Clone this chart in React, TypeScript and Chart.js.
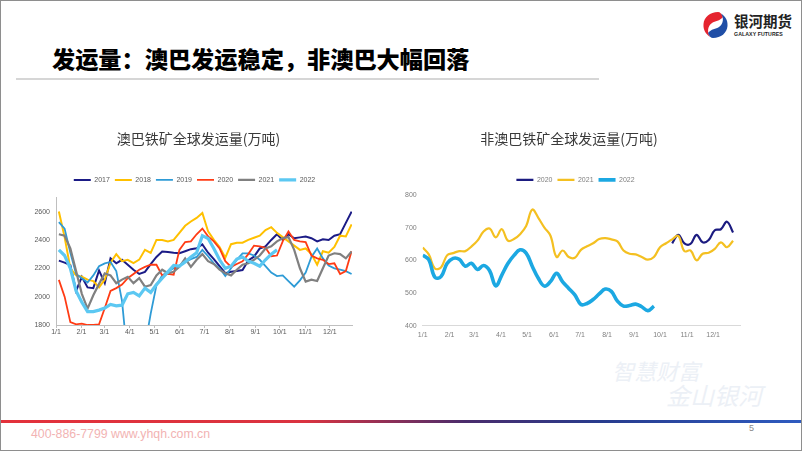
import React, { useEffect, useRef } from "react";
import { Chart, registerables } from "chart.js";

Chart.register(...registerables);

// ---------------- data ----------------
const monthDays = [0, 31, 59, 90, 120, 151, 181, 212, 243, 273, 304, 334];
const monthLabels = ["1/1", "2/1", "3/1", "4/1", "5/1", "6/1", "7/1", "8/1", "9/1", "10/1", "11/1", "12/1"];

// 澳巴 weekly shipments (万吨), 52 weeks
const ausYears = ["2017", "2018", "2019", "2020", "2021", "2022"];
const aus2017 = [2254, 2240, 2222, 2040, 2140, 2065, 2060, 2185, 2095, 2270, 2235, 2260, 2225, 2190, 2160, 2175, 2230, 2280, 2318, 2315, 2310, 2306, 2320, 2335, 2341, 2369, 2310, 2265, 2215, 2165, 2176, 2181, 2188, 2255, 2282, 2340, 2355, 2400, 2440, 2400, 2440, 2412, 2418, 2424, 2412, 2390, 2405, 2400, 2430, 2440, 2520, 2600];
const aus2018 = [2600, 2420, 2200, 2150, 2140, 2120, 2110, 2065, 2120, 2240, 2300, 2250, 2260, 2237, 2261, 2330, 2308, 2400, 2400, 2390, 2400, 2450, 2500, 2530, 2555, 2590, 2460, 2400, 2350, 2275, 2370, 2380, 2380, 2400, 2415, 2430, 2470, 2490, 2450, 2420, 2390, 2360, 2330, 2340, 2300, 2225, 2320, 2310, 2350, 2430, 2425, 2510];
const aus2019 = [2525, 2480, 2310, 2160, 2130, 2100, 2150, 2215, 2235, 2245, 2180, 1970, 1550, 1500, 1500, 1650, 1880, 2080, 2150, 2175, 2200, 2220, 2245, 2265, 2280, 2330, 2285, 2235, 2200, 2145, 2200, 2260, 2305, 2305, 2290, 2260, 2215, 2170, 2145, 2150, 2110, 2070, 2115, 2170, 2280, 2340, 2270, 2220, 2200, 2190, 2180, 2160];
const aus2020 = [2118, 2000, 1820, 1805, 1810, 1800, 1800, 1805, 1920, 2040, 2060, 2085, 2130, 2160, 2190, 2210, 2225, 2225, 2150, 2160, 2155, 2330, 2385, 2390, 2440, 2480, 2425, 2390, 2340, 2250, 2210, 2230, 2250, 2300, 2360, 2355, 2345, 2285, 2290, 2390, 2460, 2400, 2390, 2385, 2290, 2270, 2260, 2230, 2235, 2160, 2180, 2320];
const aus2021 = [2440, 2430, 2340, 2180, 2020, 1915, 2010, 2090, 2165, 2150, 2095, 2120, 2140, 2095, 2130, 2070, 2082, 2150, 2190, 2165, 2175, 2210, 2270, 2210, 2260, 2300, 2250, 2230, 2190, 2165, 2150, 2190, 2225, 2235, 2260, 2290, 2340, 2355, 2390, 2412, 2420, 2330, 2200, 2106, 2120, 2110, 2200, 2290, 2306, 2300, 2270, 2318];
const aus2022 = [2330, 2290, 2200, 2040, 1960, 1895, 1895, 1905, 1920, 1945, 1935, 1940, 2020, 2030, 2005, 2060, 2030, 2085, 2130, 2175, 2220, 2215, 2245, 2280, 2310, 2430, 2410, 2340, 2260, 2200, 2215, 2265, 2280, 2250, 2235, 2215, 2260, 2300, 2330];
const ausTicks = [1800, 2000, 2200, 2400, 2600];

// 非澳巴 weekly shipments (万吨)
const nonAusYears = ["2020", "2021", "2022"];
const nonAus2020FirstWeek = 41;
const nonAus2020 = [652, 678, 652, 650, 678, 655, 662, 692, 695, 718, 685];
const nonAus2021 = [639, 618, 575, 578, 615, 622, 628, 628, 642, 660, 688, 697, 670, 695, 660, 665, 680, 705, 755, 730, 700, 675, 610, 630, 610, 608, 632, 643, 652, 665, 668, 664, 658, 630, 620, 618, 610, 602, 610, 640, 652, 664, 675, 628, 630, 600, 620, 623, 635, 655, 640, 660];
const nonAus2022 = [616, 602, 548, 550, 590, 606, 603, 582, 591, 572, 584, 568, 522, 555, 590, 615, 632, 622, 582, 545, 521, 535, 560, 534, 514, 494, 465, 468, 480, 497, 512, 505, 475, 460, 462, 466, 458, 446, 460];
const nonAusTicks = [400, 500, 600, 700, 800];

// ---------------- helpers ----------------
const NUM_FONT = '"Liberation Sans", Arial, sans-serif';
const CJK_FONT = '"Noto Sans CJK SC", "Noto Sans", sans-serif';

const boxPlacer = {
  id: "boxPlacer",
  afterLayout(chart: any, _args: any, opts: any) {
    const move = (box: any, cx: number | undefined) => {
      if (!box || cx == null) return;
      const w = box.right - box.left;
      box.left = cx - w / 2;
      box.right = cx + w / 2;
    };
    move(chart.titleBlock, opts.titleX);
    move(chart.legend, opts.legendX);
  },
};

const legendGrow = {
  id: "legendGrow",
  beforeInit(chart: any, _args: any, opts: any) {
    const legend = chart.legend;
    if (!legend) return;
    const orig = legend.fit;
    legend.fit = function () {
      orig.call(this);
      this.height += opts.extra || 0;
    };
  },
};

const toWeekly = (values: number[], firstWeek: number, offset: number) =>
  values.map((v, k) => ({ x: (firstWeek + k) * 7 + offset, y: v }));

const plainNumber = (v: any) => String(v);
const monthLabel = (v: any) => monthLabels[monthDays.indexOf(Number(v))] ?? "";

function AusChart() {
  const ref = useRef<HTMLCanvasElement>(null);
  useEffect(() => {
    const series = [aus2017, aus2018, aus2019, aus2020, aus2021, aus2022];
    const colors = ["#1B1B86", "#FFC000", "#2E9BD6", "#FF3B14", "#808080", "#5CC8F2"];
    const widths = [2, 2, 1.8, 1.8, 2.2, 3.2];
    const chart = new Chart(ref.current!, {
      type: "line",
      data: {
        datasets: series.map((s, i) => ({
          label: ausYears[i],
          data: toWeekly(s, 0, 3.5),
          borderColor: colors[i],
          backgroundColor: colors[i],
          borderWidth: widths[i],
          pointRadius: 0,
          tension: 0,
          order: series.length - i,
        })),
      },
      options: {
        responsive: false,
        animation: false,
        layout: { padding: { left: 0, right: 13, top: 0, bottom: 0 } },
        plugins: {
          tooltip: { enabled: false },
          title: {
            display: true,
            text: "澳巴铁矿全球发运量(万吨)",
            color: "#3A3A3A",
            font: { family: CJK_FONT, size: 14, weight: "normal", lineHeight: 1.2 },
            padding: { top: 10.6, bottom: 24 },
          },
          legend: {
            display: true,
            labels: {
              usePointStyle: true,
              pointStyle: "line",
              pointStyleWidth: 17,
              padding: 5,
              color: "#595959",
              font: { family: NUM_FONT, size: 7 },
              sort: (a: any, b: any) => a.datasetIndex - b.datasetIndex,
            },
          },
          boxPlacer: { titleX: 178.5, legendX: 174.5 },
          legendGrow: { extra: 4 },
        } as any,
        scales: {
          x: {
            type: "linear",
            min: 0,
            max: 361,
            afterBuildTicks: (s: any) => {
              s.ticks = monthDays.map((d) => ({ value: d }));
            },
            afterFit: (s: any) => {
              s.height = 20;
            },
            ticks: {
              autoSkip: false,
              maxRotation: 0,
              padding: 0,
              color: "#595959",
              font: { family: NUM_FONT, size: 7 },
              callback: monthLabel,
            },
            grid: { display: true, drawOnChartArea: false, drawTicks: true, tickLength: 3, color: "#BFBFBF" },
            border: { display: true, color: "#BFBFBF", width: 1 },
          },
          y: {
            min: 1800,
            max: 2700,
            afterBuildTicks: (s: any) => {
              s.ticks = ausTicks.map((v) => ({ value: v }));
            },
            afterFit: (s: any) => {
              s.width = 36;
            },
            ticks: { padding: 6, color: "#595959", font: { family: NUM_FONT, size: 7 }, callback: plainNumber },
            grid: { display: false, drawTicks: false },
            border: { display: true, color: "#BFBFBF", width: 1 },
          },
        },
      },
      plugins: [boxPlacer, legendGrow],
    } as any);
    return () => chart.destroy();
  }, []);
  return <canvas ref={ref} width={345} height={225} style={{ position: "absolute", left: 20, top: 120 }} />;
}

function NonAusChart() {
  const ref = useRef<HTMLCanvasElement>(null);
  useEffect(() => {
    const series = [
      { label: nonAusYears[0], data: toWeekly(nonAus2020, nonAus2020FirstWeek, 0), color: "#1B1B80", width: 2.2 },
      { label: nonAusYears[1], data: toWeekly(nonAus2021, 0, 0), color: "#F4C021", width: 2.2 },
      { label: nonAusYears[2], data: toWeekly(nonAus2022, 0, 0), color: "#1CA8E2", width: 3.6 },
    ];
    const chart = new Chart(ref.current!, {
      type: "line",
      data: {
        datasets: series.map((s, i) => ({
          label: s.label,
          data: s.data,
          borderColor: s.color,
          backgroundColor: s.color,
          borderWidth: s.width,
          pointRadius: 0,
          tension: 0.4,
          order: series.length - i,
        })),
      },
      options: {
        responsive: false,
        animation: false,
        layout: { padding: { left: 0, right: 15, top: 0, bottom: 0 } },
        plugins: {
          tooltip: { enabled: false },
          title: {
            display: true,
            text: "非澳巴铁矿全球发运量(万吨)",
            color: "#3A3A3A",
            font: { family: CJK_FONT, size: 14, weight: "normal", lineHeight: 1.2 },
            padding: { top: 10.6, bottom: 24 },
          },
          legend: {
            display: true,
            labels: {
              usePointStyle: true,
              pointStyle: "line",
              pointStyleWidth: 17,
              padding: 5,
              color: "#7F7F7F",
              font: { family: NUM_FONT, size: 7 },
              sort: (a: any, b: any) => a.datasetIndex - b.datasetIndex,
            },
          },
          boxPlacer: { titleX: 184, legendX: 190.5 },
          legendGrow: { extra: 1.5 },
        } as any,
        scales: {
          x: {
            type: "linear",
            min: 0,
            max: 365,
            afterBuildTicks: (s: any) => {
              s.ticks = monthDays.map((d) => ({ value: d }));
            },
            afterFit: (s: any) => {
              s.height = 19.3;
            },
            ticks: {
              autoSkip: false,
              maxRotation: 0,
              padding: 5,
              color: "#7F7F7F",
              font: { family: NUM_FONT, size: 7 },
              callback: monthLabel,
            },
            grid: { display: false, drawTicks: false },
            border: { display: true, color: "#D9D9D9", width: 1 },
          },
          y: {
            min: 400,
            max: 800,
            afterBuildTicks: (s: any) => {
              s.ticks = nonAusTicks.map((v) => ({ value: v }));
            },
            afterFit: (s: any) => {
              s.width = 37.7;
            },
            ticks: { padding: 6, color: "#7F7F7F", font: { family: NUM_FONT, size: 7 }, callback: plainNumber },
            grid: { display: false, drawTicks: false },
            border: { display: false },
          },
        },
      },
      plugins: [boxPlacer, legendGrow],
    } as any);
    return () => chart.destroy();
  }, []);
  return <canvas ref={ref} width={370} height={225} style={{ position: "absolute", left: 385, top: 120 }} />;
}

function Logo() {
  return (
    <div style={{ position: "absolute", left: 702, top: 11, width: 96, height: 30 }}>
      <svg width="27" height="28" viewBox="0 0 27 28" style={{ position: "absolute", left: 0, top: 0 }}>
        <path d="M16 1 C8 1 2 6 1.5 13 C1 19 4 23 8 26 C5 21 5.5 15 10 12 C13 10 18 10 21 6 C20 3 18 1 16 1 Z" fill="#E5242F" />
        <path d="M11 27 C19 27 25 22 25.5 15 C26 9 23 5 19 2.5 C22 7 21.5 13 17 16 C14 18 9 18 6 22 C7 25 9 27 11 27 Z" fill="#1F4EA6" />
      </svg>
      <div
        style={{
          position: "absolute",
          left: 32,
          top: 2,
          fontFamily: CJK_FONT,
          fontWeight: 700,
          fontSize: 14.5,
          lineHeight: "16px",
          color: "#222",
          whiteSpace: "nowrap",
        }}
      >
        银河期货
      </div>
      <div
        style={{
          position: "absolute",
          left: 32,
          top: 20,
          fontFamily: NUM_FONT,
          fontWeight: 700,
          fontSize: 5.2,
          lineHeight: "6px",
          color: "#222",
          whiteSpace: "nowrap",
          letterSpacing: 0.1,
        }}
      >
        GALAXY FUTURES
      </div>
    </div>
  );
}

export default function App() {
  return (
    <div
      style={{
        position: "fixed",
        left: 0,
        top: 0,
        width: 802,
        height: 451,
        background: "#ffffff",
        overflow: "hidden",
      }}
    >
      <Logo />
      <div
        style={{
          position: "absolute",
          left: 52,
          top: 46,
          fontFamily: CJK_FONT,
          fontWeight: 900,
          fontSize: 23.2,
          lineHeight: "25px",
          color: "#000",
          whiteSpace: "nowrap",
        }}
      >
        发运量：澳巴发运稳定，非澳巴大幅回落
      </div>
      <div style={{ position: "absolute", left: 16, top: 78, width: 583, height: 2, background: "#D6D6D6" }} />

      <AusChart />
      <NonAusChart />

      <div
        style={{
          position: "absolute",
          left: 612,
          top: 358,
          fontFamily: CJK_FONT,
          fontSize: 22,
          fontStyle: "italic",
          lineHeight: "24px",
          color: "#ECF0F6",
          whiteSpace: "nowrap",
        }}
      >
        智慧财富
      </div>
      <div
        style={{
          position: "absolute",
          left: 666,
          top: 382,
          fontFamily: CJK_FONT,
          fontSize: 24,
          fontStyle: "italic",
          lineHeight: "26px",
          color: "#ECF0F6",
          whiteSpace: "nowrap",
        }}
      >
        金山银河
      </div>

      <div
        style={{
          position: "absolute",
          left: 0,
          top: 420,
          width: 802,
          height: 3,
          background: "linear-gradient(to right, #E3313B 0%, #DA3340 38%, #4A2C6C 58%, #283C8E 75%, #2E5BC0 100%)",
        }}
      />
      <div
        style={{
          position: "absolute",
          left: 31,
          top: 427,
          fontFamily: NUM_FONT,
          fontSize: 12.3,
          lineHeight: "14px",
          color: "#F2B3B3",
          whiteSpace: "nowrap",
        }}
      >
        400-886-7799 www.yhqh.com.cn
      </div>
      <div
        style={{
          position: "absolute",
          left: 749,
          top: 423,
          fontFamily: NUM_FONT,
          fontSize: 9,
          lineHeight: "10px",
          color: "#8A8A8A",
        }}
      >
        5
      </div>
      <div
        style={{
          position: "absolute",
          left: 0,
          top: 0,
          width: 802,
          height: 451,
          boxSizing: "border-box",
          border: "1px solid #8E8E8E",
          pointerEvents: "none",
        }}
      />
    </div>
  );
}
